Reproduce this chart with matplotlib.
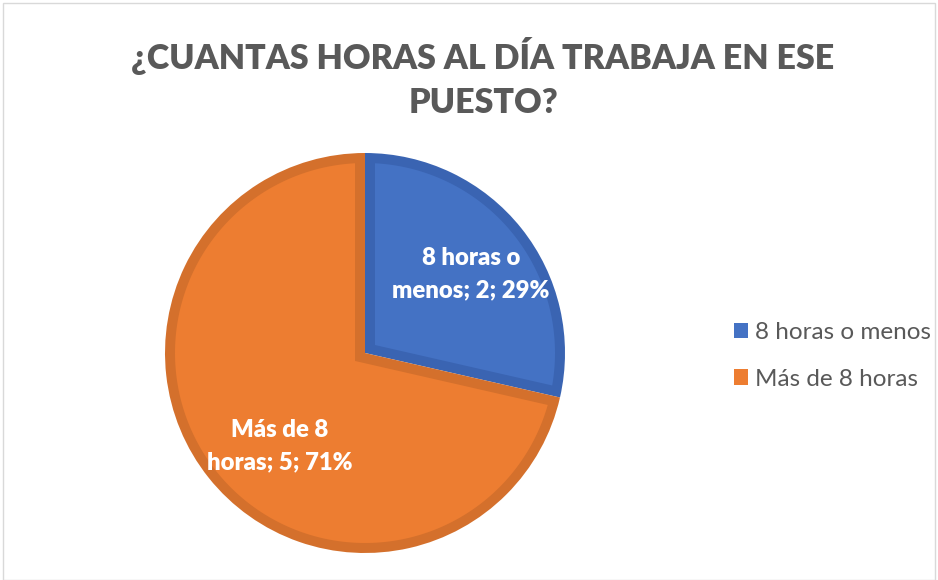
import numpy as np
import matplotlib.pyplot as plt
from matplotlib.patches import Rectangle, Polygon

plt.rcParams['font.family'] = ['Lato', 'DejaVu Sans']

categories = ['8 horas o menos', 'Más de 8 horas']
counts = [2, 5]
data_labels = ['8 horas o\nmenos; 2; 29%', 'Más de 8\nhoras; 5; 71%']
title = '¿CUANTAS HORAS AL DÍA TRABAJA EN ESE\nPUESTO?'

fill_colors = ['#4472C4', '#ED7D31']
edge_colors = ['#3A64B2', '#D4702C']

W, H = 938, 580
fig = plt.figure(figsize=(W / 100, H / 100), dpi=100)
fig.patches.append(Rectangle((0.003, 0.0), 0.994, 0.995, transform=fig.transFigure,
                             fill=False, edgecolor='#D9D9D9', linewidth=1.0))

# pie centre (px) and radius (px)
cx, cy, rad = 365, 353, 200
border = 10 / rad
lim = 1.05
size = 2 * lim * rad
ax = fig.add_axes([(cx - size / 2) / W, (H - cy - size / 2) / H, size / W, size / H])

# full wedges in the border colour
wedges, _ = ax.pie(counts, startangle=90, counterclock=False,
                   colors=edge_colors, radius=1.0,
                   wedgeprops=dict(linewidth=0))


def inset_shape(w, t):
    # the wedge shrunk inwards by t on every side
    t1, t2 = np.deg2rad(w.theta1), np.deg2rad(w.theta2)
    half, mid = (t2 - t1) / 2, (t1 + t2) / 2
    d = t / np.sin(half)
    c = d * np.array([np.cos(mid), np.sin(mid)])
    r_in = w.r - t
    ends = []
    for th in (t1, t2):
        u = np.array([np.cos(th), np.sin(th)])
        b = c @ u
        s = -b + np.sqrt(b * b - (c @ c - r_in ** 2))
        p = c + s * u
        ends.append(np.arctan2(p[1], p[0]))
    p1, p2 = ends
    while p2 < p1:
        p2 += 2 * np.pi
    arc = np.linspace(p1, p2, 200)
    pts = np.vstack([c, np.column_stack([r_in * np.cos(arc), r_in * np.sin(arc)])])
    return pts


for w, fc in zip(wedges, fill_colors):
    ax.add_patch(Polygon(inset_shape(w, border), closed=True, facecolor=fc,
                         edgecolor='none'))

label_pos = [(0.661, 36.7), (0.63, 227.6)]
for txt, (r, ang) in zip(data_labels, label_pos):
    a = np.deg2rad(ang)
    ax.text(r * np.cos(a), r * np.sin(a), txt, ha='center', va='center',
            color='white', fontsize=17.2, fontweight='heavy', linespacing=1.56)

ax.set_xlim(-lim, lim)
ax.set_ylim(-lim, lim)
ax.set_aspect('equal')
ax.axis('off')

fig.text(483 / W, 1 - 78 / H, title, ha='center', va='center', fontsize=24.5,
         fontweight='heavy', color='#595959', linespacing=1.48)

fill_handles = [Rectangle((0, 0), 1, 1, facecolor=fc, edgecolor='none')
                for fc in fill_colors]
leg = fig.legend(fill_handles, categories, loc='center left',
                 bbox_to_anchor=(712 / W, 1 - 356 / H), frameon=False,
                 fontsize=17.5, handlelength=0.6, handleheight=0.6,
                 handletextpad=0.25, labelspacing=1.05)
for t in leg.get_texts():
    t.set_color('#595959')

fig.savefig('out.png', dpi=100)
